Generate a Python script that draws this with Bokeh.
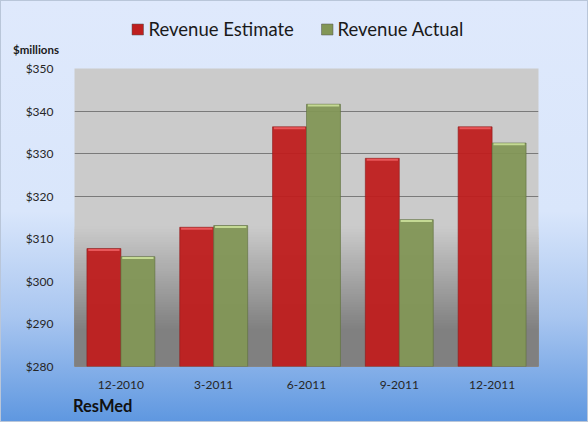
from bokeh.plotting import figure
from bokeh.layouts import column
from bokeh.models import (ColumnDataSource, FactorRange, Range1d, BoxAnnotation, Title,
                          NumeralTickFormatter, FixedTicker)
from bokeh.core.properties import value
from bokeh.transform import dodge
from bokeh.embed import file_html
from bokeh.resources import INLINE
import numpy as np

# ---- data ----
quarters = ["12-2010", "3-2011", "6-2011", "9-2011", "12-2011"]
revenue_estimate = [307.7, 312.7, 336.3, 328.9, 336.3]
revenue_actual = [305.8, 313.1, 341.6, 314.5, 332.5]
y_ticks = [280, 290, 300, 310, 320, 330, 340, 350]
series_names = ["Revenue Estimate", "Revenue Actual"]
company = "ResMed"
unit_label = "$millions"

FONT = "Lato"
EST = "#bf1e1e"
ACT = "#829656"
EST_HI = "#e8575a"
ACT_HI = "#c4d994"
W = 588
FL, FR = 74, 538          # frame left/right (canvas px)
H_HEAD = 58               # header strip: legend + unit label
HEAD_BOTTOM = 20          # header panel under its frame (holds the unit label)
HEAD_FRAME = H_HEAD - HEAD_BOTTOM
H_MAIN = 422 - H_HEAD

# ---- header: legend, drawn in pixel-like units (y downwards) ----
head = figure(width=W, height=H_HEAD, x_range=Range1d(FL, FR), y_range=Range1d(HEAD_FRAME, 0),
              x_axis_type=None, y_axis_type=None, output_backend="svg", toolbar_location=None,
              min_border_left=FL, min_border_right=W - FR, min_border_top=0,
              min_border_bottom=HEAD_BOTTOM)
head.border_fill_color = None
head.background_fill_color = None
head.outline_line_color = None
head.grid.visible = False
leg = ColumnDataSource(dict(
    gl=[131.5, 321], gr=[143, 332.5], gt=[23.5, 23.5], gb=[34.5, 34.5],
    tx=[148, 337], ty=[28.5, 28.5], name=series_names, color=[EST, ACT]))
head.quad(left="gl", right="gr", top="gt", bottom="gb", fill_color="color",
          line_color="#555555", line_alpha=0.5, source=leg)
head.text(x="tx", y="ty", text="name", text_baseline="middle", text_font_size="18.5px",
          text_color="#1a1a1a", source=leg, text_font=value(FONT))
head.add_layout(Title(text=unit_label, align="left", offset=12.5 - FL, standoff=4,
                      text_font=FONT, text_font_size="11.5px", text_font_style="bold",
                      text_color="#1a1a1a"), "below")

# ---- main chart ----
src = ColumnDataSource(dict(
    q=quarters,
    est=revenue_estimate,
    act=revenue_actual,
    est_hi_b=[v - 0.55 for v in revenue_estimate],
    est_hi_t=[v - 0.08 for v in revenue_estimate],
    act_hi_b=[v - 0.55 for v in revenue_actual],
    act_hi_t=[v - 0.08 for v in revenue_actual],
))

p = figure(width=W, height=H_MAIN, x_range=FactorRange(*quarters),
           y_range=Range1d(y_ticks[0], y_ticks[-1]),
           output_backend="svg", toolbar_location=None,
           min_border_left=FL, min_border_right=W - FR, min_border_top=68 - H_HEAD,
           min_border_bottom=56)
p.border_fill_color = None
p.outline_line_color = None
p.background_fill_color = "#cbcbcb"

# plot-area gradient (decoration), derived from the y range; overlapping boxes avoid seams
lo, hi = y_ticks[0], y_ticks[-1]
span = hi - lo
g_top = lo + span * 0.47
g_bot = lo + span * 0.12
n = 40
edges = np.linspace(g_bot, g_top, n + 1)
for i in range(n - 1, -1, -1):
    t = (i + 0.5) / n
    c = int(round(0x7f + (0xcb - 0x7f) * t))
    p.add_layout(BoxAnnotation(bottom=lo, top=edges[i + 1], fill_color=(c, c, c),
                               fill_alpha=1, line_color=None, level="underlay"))

w = 0.366
p.vbar(x=dodge("q", -w / 2, range=p.x_range), top="est", bottom=lo, width=w, source=src,
       fill_color=EST, line_color="#8e1a1a", line_alpha=0.6, fill_alpha=0.95)
p.vbar(x=dodge("q", w / 2, range=p.x_range), top="act", bottom=lo, width=w, source=src,
       fill_color=ACT, line_color="#5e6e3e", line_alpha=0.6, fill_alpha=0.95)
p.vbar(x=dodge("q", -w / 2, range=p.x_range), top="est_hi_t", bottom="est_hi_b", width=w * 0.92,
       source=src, fill_color=EST_HI, line_color=None)
p.vbar(x=dodge("q", w / 2, range=p.x_range), top="act_hi_t", bottom="act_hi_b", width=w * 0.92,
       source=src, fill_color=ACT_HI, line_color=None)

p.yaxis.ticker = FixedTicker(ticks=y_ticks)
p.yaxis.formatter = NumeralTickFormatter(format="$0")
for ax in (p.xaxis[0], p.yaxis[0]):
    ax.axis_line_color = None
    ax.major_tick_line_color = None
    ax.minor_tick_line_color = None
    ax.major_label_text_font = FONT
    ax.major_label_text_font_size = "12px"
    ax.major_label_text_color = "#262626"
p.yaxis.major_label_standoff = 15
p.xaxis.major_label_standoff = 8
p.xgrid.grid_line_color = None
p.ygrid.grid_line_color = "#7a7a7a"
p.ygrid.grid_line_width = 1

p.add_layout(Title(text=company, align="left", offset=72.5 - FL, standoff=4,
                   text_font=FONT, text_font_size="16.5px", text_font_style="bold",
                   text_color="#111111"), "below")

page = column(head, p, spacing=0)
page.styles = {"background": "linear-gradient(to bottom, #dfe9fc 0%, #d9e6fb 50%, #a9c6f0 75%, #5e97e0 100%)",
               "box-shadow": "inset 0 0 0 1px #b9c6d9"}

open("out.html", "w").write(file_html(page, INLINE))
